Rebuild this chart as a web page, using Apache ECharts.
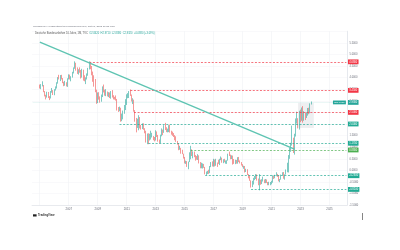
<!DOCTYPE html>
<html><head><meta charset="utf-8">
<script src="https://cdn.jsdelivr.net/npm/echarts@6/dist/echarts.min.js"></script>
<style>html,body{margin:0;padding:0;background:#fff}#c{width:400px;height:250px}</style>
</head><body><div id="c"></div>
<script>
// ---- axis categories (monthly) ----
const startYear = 2004, startMonth = 7, monthCount = 261;
const yearTickLabels = ['2007','2009','2011','2013','2015','2017','2019','2021','2023','2025'];
const gridYears = ['2005','2007','2009','2011','2013','2015','2017','2019','2021','2023','2025'];
const firstDataMonth = '2005-01';

// ---- monthly OHLC, 2005-01 .. 2023-10 ----
const open = [
3.68,3.56,3.65,3.66,3.39,3.21,3.17,3.33,3.14,3.12,3.37,3.42,
3.31,3.48,3.55,3.77,4.00,3.97,4.07,3.96,3.78,3.68,3.78,3.66,
3.95,4.07,3.95,4.02,4.22,4.42,4.56,4.35,4.25,4.31,4.30,4.06,
4.32,4.00,3.90,3.94,4.13,4.39,4.63,4.46,4.18,4.02,3.90,3.45,
2.95,3.30,3.11,2.99,3.19,3.58,3.39,3.31,3.31,3.22,3.27,3.17,
3.39,3.17,3.10,3.09,3.05,2.67,2.58,2.67,2.12,2.28,2.51,2.67,
2.96,3.16,3.20,3.35,3.24,3.03,3.03,2.54,2.23,1.89,2.12,2.27,
1.83,1.79,1.82,1.79,1.66,1.20,1.58,1.29,1.34,1.44,1.46,1.36,
1.32,1.67,1.45,1.29,1.21,1.51,1.73,1.67,1.86,1.78,1.67,1.69,
1.93,1.66,1.62,1.57,1.47,1.36,1.25,1.16,0.89,0.95,0.84,0.70,
0.54,0.30,0.33,0.18,0.37,0.49,0.76,0.64,0.80,0.59,0.52,0.47,
0.63,0.33,0.11,0.15,0.27,0.14,-0.13,-0.12,-0.07,-0.12,0.16,0.27,
0.21,0.44,0.21,0.33,0.32,0.30,0.47,0.54,0.36,0.46,0.36,0.37,
0.43,0.70,0.66,0.50,0.56,0.34,0.30,0.44,0.33,0.47,0.39,0.31,
0.24,0.15,0.18,-0.07,0.01,-0.20,-0.33,-0.44,-0.70,-0.57,-0.41,-0.36,
-0.19,-0.43,-0.61,-0.47,-0.59,-0.45,-0.45,-0.53,-0.40,-0.52,-0.63,-0.57,
-0.57,-0.52,-0.26,-0.29,-0.20,-0.19,-0.21,-0.46,-0.38,-0.20,-0.11,-0.35,
-0.18,0.01,0.13,0.55,0.94,1.12,1.34,0.82,1.54,2.11,2.14,1.93,
2.57,2.29,2.65,2.29,2.31,2.28,2.39,2.49,2.47,2.84];
const high = [
3.70,3.72,3.84,3.68,3.42,3.26,3.39,3.38,3.20,3.42,3.55,3.46,
3.50,3.62,3.80,4.02,4.12,4.11,4.12,3.98,3.82,3.86,3.80,3.97,
4.14,4.13,4.06,4.25,4.44,4.70,4.64,4.44,4.36,4.44,4.33,4.38,
4.34,4.10,4.01,4.18,4.42,4.70,4.68,4.50,4.26,4.10,3.94,3.48,
3.36,3.37,3.19,3.27,3.62,3.70,3.48,3.50,3.40,3.37,3.36,3.42,
3.46,3.24,3.17,3.23,3.08,2.73,2.75,2.70,2.45,2.58,2.82,3.07,
3.28,3.33,3.42,3.49,3.27,3.11,3.05,2.60,2.26,2.23,2.38,2.30,
1.96,2.03,2.03,1.82,1.71,1.59,1.60,1.58,1.71,1.62,1.48,1.44,
1.73,1.68,1.53,1.33,1.54,1.81,1.76,1.95,2.05,1.86,1.80,1.95,
1.97,1.71,1.67,1.61,1.52,1.47,1.27,1.18,1.06,0.97,0.89,0.72,
0.58,0.42,0.40,0.38,0.78,1.06,0.91,0.82,0.81,0.66,0.62,0.70,
0.65,0.36,0.33,0.30,0.28,0.15,-0.05,-0.02,0.03,0.19,0.36,0.39,
0.50,0.47,0.50,0.34,0.46,0.50,0.60,0.55,0.48,0.50,0.43,0.44,
0.72,0.81,0.68,0.65,0.64,0.49,0.46,0.45,0.57,0.58,0.43,0.36,
0.27,0.20,0.19,0.07,0.05,-0.16,-0.22,-0.43,-0.45,-0.32,-0.24,-0.16,
-0.17,-0.35,-0.16,-0.40,-0.38,-0.27,-0.39,-0.37,-0.39,-0.50,-0.49,-0.50,
-0.45,-0.21,-0.24,-0.19,-0.08,-0.15,-0.20,-0.37,-0.18,-0.08,-0.07,-0.17,
0.04,0.33,0.66,0.98,1.19,1.93,1.41,1.58,2.24,2.53,2.25,2.57,
2.62,2.71,2.77,2.55,2.50,2.50,2.69,2.70,2.89,2.97];
const low = [
3.53,3.50,3.62,3.37,3.19,3.06,3.14,3.12,3.03,3.10,3.35,3.25,
3.24,3.44,3.53,3.74,3.92,3.85,3.92,3.76,3.63,3.65,3.62,3.60,
3.92,3.92,3.84,4.00,4.18,4.38,4.30,4.16,4.13,4.21,3.96,4.00,
3.87,3.84,3.72,3.92,4.08,4.35,4.36,4.10,3.82,3.61,3.37,2.87,
2.90,3.05,2.92,2.96,3.16,3.36,3.22,3.20,3.19,3.16,3.12,3.09,
3.14,3.06,3.05,3.01,2.58,2.52,2.55,2.10,2.12,2.20,2.44,2.60,
2.82,3.11,3.12,3.21,2.97,2.86,2.53,2.10,1.64,1.83,1.73,1.81,
1.76,1.78,1.75,1.60,1.20,1.13,1.13,1.29,1.33,1.42,1.30,1.25,
1.29,1.44,1.24,1.16,1.18,1.47,1.52,1.62,1.74,1.65,1.64,1.65,
1.63,1.54,1.49,1.44,1.30,1.23,1.11,0.87,0.89,0.72,0.70,0.51,
0.30,0.28,0.15,0.05,0.36,0.48,0.62,0.52,0.57,0.42,0.46,0.45,
0.30,0.09,0.09,0.08,0.11,-0.17,-0.21,-0.16,-0.15,-0.12,0.14,0.17,
0.16,0.17,0.20,0.15,0.28,0.23,0.44,0.33,0.31,0.35,0.29,0.28,
0.42,0.62,0.48,0.49,0.25,0.28,0.27,0.29,0.29,0.36,0.30,0.21,
0.14,0.07,-0.09,-0.07,-0.20,-0.34,-0.45,-0.74,-0.72,-0.61,-0.42,-0.37,
-0.44,-0.64,-0.86,-0.62,-0.59,-0.48,-0.55,-0.55,-0.54,-0.64,-0.64,-0.64,
-0.60,-0.53,-0.37,-0.34,-0.25,-0.28,-0.47,-0.51,-0.40,-0.21,-0.36,-0.40,
-0.18,-0.08,-0.09,0.50,0.80,1.07,0.75,0.68,1.46,2.02,1.81,1.76,
2.08,2.14,2.06,2.14,2.17,2.26,2.36,2.42,2.46,2.84];
const close = [
3.56,3.65,3.66,3.39,3.21,3.17,3.33,3.14,3.12,3.37,3.42,3.31,
3.48,3.55,3.77,4.00,3.97,4.07,3.96,3.78,3.68,3.78,3.66,3.95,
4.07,3.95,4.02,4.22,4.42,4.56,4.35,4.25,4.31,4.30,4.06,4.32,
4.00,3.90,3.94,4.13,4.39,4.63,4.46,4.18,4.02,3.90,3.45,2.95,
3.30,3.11,2.99,3.19,3.58,3.39,3.31,3.31,3.22,3.27,3.17,3.39,
3.17,3.10,3.09,3.05,2.67,2.58,2.67,2.12,2.28,2.51,2.67,2.96,
3.16,3.20,3.35,3.24,3.03,3.03,2.54,2.23,1.89,2.12,2.27,1.83,
1.79,1.82,1.79,1.66,1.20,1.58,1.29,1.34,1.44,1.46,1.36,1.32,
1.67,1.45,1.29,1.21,1.51,1.73,1.67,1.86,1.78,1.67,1.69,1.93,
1.66,1.62,1.57,1.47,1.36,1.25,1.16,0.89,0.95,0.84,0.70,0.54,
0.30,0.33,0.18,0.37,0.49,0.76,0.64,0.80,0.59,0.52,0.47,0.63,
0.33,0.11,0.15,0.27,0.14,-0.13,-0.12,-0.07,-0.12,0.16,0.27,0.21,
0.44,0.21,0.33,0.32,0.30,0.47,0.54,0.36,0.46,0.36,0.37,0.43,
0.70,0.66,0.50,0.56,0.34,0.30,0.44,0.33,0.47,0.39,0.31,0.24,
0.15,0.18,-0.07,0.01,-0.20,-0.33,-0.44,-0.70,-0.57,-0.41,-0.36,-0.19,
-0.43,-0.61,-0.47,-0.59,-0.45,-0.45,-0.53,-0.40,-0.52,-0.63,-0.57,-0.57,
-0.52,-0.26,-0.29,-0.20,-0.19,-0.21,-0.46,-0.38,-0.20,-0.11,-0.35,-0.18,
0.01,0.13,0.55,0.94,1.12,1.34,0.82,1.54,2.11,2.14,1.93,2.57,
2.29,2.65,2.29,2.31,2.28,2.39,2.49,2.47,2.84,2.93];

// ---- horizontal levels drawn on the chart ----
const levelValues = [4.68, 3.45, 2.50, 2.00, 1.17, 0.88, -0.23, -0.82];
const levelStarts = ['2008-06','2011-04','2011-07','2010-07','2012-07','2015-06','2016-06','2019-08'];
const levelKinds  = ['res','res','res','sup','sup','mid','sup','sup'];

// ---- diagonal trend line ----
const trendFrom = ['2005-01', 5.53];
const trendTo   = ['2022-08', 0.92];

// ---- shaded box (drawing) ----
const boxFrom = ['2022-11', 2.91];
const boxTo   = ['2023-12', 1.83];

const headerLine1 = 'GenossenFX veröffentlicht auf TradingView.com, Okt 06, 2023 17:22 UTC';
const headerName = 'Deutsche Bundesanleihen 10 Jahre, 1M, TVC';
const headerOHLC = 'O2.8420  H2.9710  L2.8380  C2.9320  +0.0880 (+3.09%)';

// ---------------------------------------------------------------
const months = [];
for (let i = 0; i < monthCount; i++) {
  const m = startMonth - 1 + i;
  months.push((startYear + Math.floor(m / 12)) + '-' + String(m % 12 + 1).padStart(2, '0'));
}
const offset = months.indexOf(firstDataMonth);
const ohlc = months.map((m, i) => {
  const k = i - offset;
  if (k < 0 || k >= close.length) return '-';
  return [open[k], close[k], low[k], high[k]];
});
const lastCat = months[months.length - 1];
const lastClose = close[close.length - 1];

const UP = '#26a69a', DOWN = '#ef5350';
const kindColor = { res: '#f23645', sup: '#22ab94', mid: '#4caf50' };

const lineItems = levelValues.map((v, i) => {
  const c = kindColor[levelKinds[i]];
  return [
    { coord: [levelStarts[i], v],
      lineStyle: { color: c, width: 0.7, type: [2, 1.6] },
      label: { show: true, position: 'end', distance: 1.6, formatter: v.toFixed(4),
               backgroundColor: c, color: '#fff', fontSize: 2.6, padding: [0.9, 1.3],
               fontFamily: 'Liberation Sans' } },
    { coord: [lastCat, v] }
  ];
});
// trend line
lineItems.push([
  { coord: trendFrom, lineStyle: { color: '#5ec4b2', width: 1.3, type: 'solid' }, label: { show: false } },
  { coord: trendTo }
]);
// last price line + label
lineItems.push([
  { coord: [months[0], lastClose], lineStyle: { color: 'rgba(38,166,154,0.18)', width: 0.5, type: 'solid' },
    label: { show: true, position: 'end', distance: 1.6, formatter: lastClose.toFixed(4),
             backgroundColor: UP, color: '#fff', fontSize: 2.6, padding: [0.9, 1.3], fontFamily: 'Liberation Sans' } },
  { coord: [lastCat, lastClose] }
]);
lineItems.push([
  { coord: [months[0], lastClose], lineStyle: { color: 'rgba(0,0,0,0)', width: 0.5 },
    label: { show: true, position: 'insideEnd', distance: 0.5, formatter: '25T 06:37',
             backgroundColor: UP, color: '#fff', fontSize: 2.3, padding: [0.9, 1.3], fontFamily: 'Liberation Sans' } },
  { coord: [lastCat, lastClose] }
]);

const chart = echarts.init(document.getElementById('c'), null, { renderer: 'canvas' });
const isYearTick = (list) => (i, v) => v.slice(5) === '01' && list.indexOf(v.slice(0, 4)) >= 0;

chart.setOption({
  animation: false,
  backgroundColor: '#ffffff',
  textStyle: { fontFamily: 'Liberation Sans' },
  title: [
    { text: headerLine1, left: 33, top: 25, padding: 0,
      textStyle: { fontSize: 2.5, color: '#6a6d78', fontWeight: 'normal' } },
    { text: '{a|' + headerName + '}  {b|' + headerOHLC + '}', left: 35, top: 32.2, padding: 0,
      textStyle: { fontSize: 2.6, fontWeight: 'normal',
        rich: { a: { fontSize: 2.6, color: '#555' }, b: { fontSize: 2.6, color: UP } } } }
  ],
  grid: { left: 32, right: 53, top: 31.2, bottom: 44.8, containLabel: false },
  xAxis: {
    type: 'category', data: months, boundaryGap: true,
    axisLine: { show: true, onZero: false, lineStyle: { color: '#dcdfe6', width: 0.6 } },
    axisTick: { show: false },
    axisLabel: { interval: isYearTick(yearTickLabels), formatter: v => v.slice(0, 4),
                 fontSize: 2.9, color: '#6a6d78', margin: 2.2 },
    splitLine: { show: true, interval: isYearTick(gridYears), lineStyle: { color: '#f0f2f5', width: 0.6 } }
  },
  yAxis: {
    type: 'value', position: 'right', min: -1.5, max: 6, interval: 0.5, scale: true,
    axisLine: { show: true, lineStyle: { color: '#dcdfe6', width: 0.6 } },
    axisTick: { show: false },
    axisLabel: { formatter: v => v.toFixed(4), fontSize: 2.6, color: '#6a6d78', margin: 2.5, showMaxLabel: false },
    splitLine: { show: true, lineStyle: { color: '#f2f3f6', width: 0.5 } }
  },
  series: [{
    type: 'candlestick',
    data: ohlc,
    itemStyle: { color: UP, color0: DOWN, borderColor: UP, borderColor0: DOWN, borderWidth: 0.6 },
    markArea: { silent: true, itemStyle: { color: 'rgba(120,128,150,0.13)' },
      data: [[{ coord: boxFrom }, { coord: boxTo }]] },
    markLine: { silent: true, symbol: ['none', 'none'], animation: false, precision: 4,
      data: lineItems }
  }],
  graphic: [
    { type: 'rect', shape: { x: 33, y: 214.3, width: 3.6, height: 2.2 }, style: { fill: '#222' } },
    { type: 'text', x: 38, y: 213.6, style: { text: 'TradingView', fontSize: 2.8, fill: '#333', fontWeight: 'bold', fontFamily: 'Liberation Sans' } },
    { type: 'rect', shape: { x: 362, y: 213, width: 0.8, height: 7 }, style: { fill: '#666' } }
  ]
});
</script></body></html>
